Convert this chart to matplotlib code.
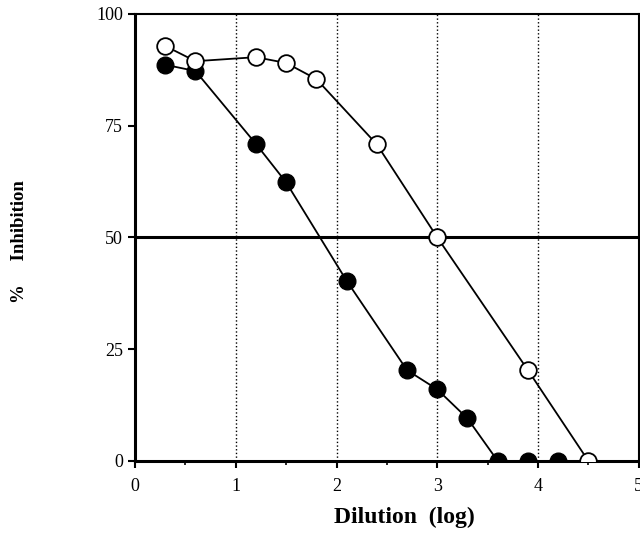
import matplotlib.pyplot as plt

plt.rcParams['font.family'] = ['Liberation Serif', 'DejaVu Serif']

# open circles
open_x = [0.3, 0.6, 1.2, 1.5, 1.8, 2.4, 3.0, 3.9, 4.5]
open_y = [92.8, 89.4, 90.3, 89.0, 85.4, 70.8, 50.0, 20.3, 0.0]
# filled circles
filled_x = [0.3, 0.6, 1.2, 1.5, 2.1, 2.7, 3.0, 3.3, 3.6, 3.9, 4.2]
filled_y = [88.6, 87.2, 70.9, 62.3, 40.3, 20.3, 16.0, 9.5, 0.0, 0.0, 0.0]

x_ticks = [0, 1, 2, 3, 4, 5]
y_ticks = [0, 25, 50, 75, 100]

fig = plt.figure(figsize=(6.4, 5.52), dpi=100)
ax = fig.add_axes([0.211, 0.165, 0.787, 0.810])

for gx in [1, 2, 3, 4]:
    ax.axvline(gx, color='black', linestyle=':', linewidth=1.0, zorder=1)
ax.axhline(50, color='black', linewidth=2.2, zorder=1)

ax.plot(filled_x, filled_y, color='black', linewidth=1.3, marker='o',
        markersize=12, markerfacecolor='black', markeredgecolor='black', zorder=3)
ax.plot(open_x, open_y, color='black', linewidth=1.3, marker='o',
        markersize=12, markerfacecolor='white', markeredgecolor='black',
        markeredgewidth=1.3, zorder=4)

ax.set_xlim(0, 5)
ax.set_ylim(0, 100)
ax.set_xticks(x_ticks)
ax.set_xticks([0.5, 1.5, 2.5, 3.5, 4.5], minor=True)
ax.set_yticks(y_ticks)
ax.tick_params(axis='both', labelsize=13, width=1.5, length=5, direction='out')
ax.tick_params(axis='x', which='minor', length=3, width=1.2)
ax.tick_params(axis='x', pad=7)
for s in ax.spines.values():
    s.set_linewidth(1.5)
ax.spines['left'].set_linewidth(2.2)
ax.spines['bottom'].set_linewidth(2.2)

fig.text(0.632, 0.062, 'Dilution  (log)', fontsize=17, fontweight='bold',
         ha='center', va='center')
fig.text(0.030, 0.562, '%     Inhibition', fontsize=13.5, fontweight='bold',
         ha='center', va='center', rotation=90)

fig.savefig('out.png', dpi=100)
